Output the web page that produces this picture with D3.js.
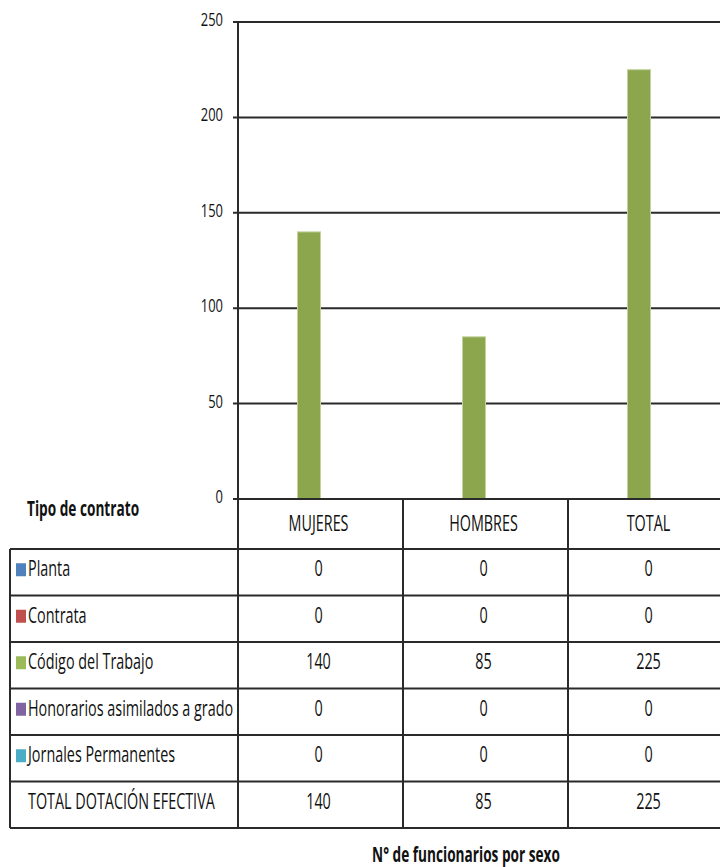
<!DOCTYPE html>
<html><head><meta charset="utf-8">
<script src="https://cdn.jsdelivr.net/npm/d3@7"></script>
<style>html,body{margin:0;padding:0;background:#fff;}svg{display:block;}</style>
</head><body>
<svg id="c" width="720" height="867"></svg>
<script>
const categories = ["MUJERES", "HOMBRES", "TOTAL"];
const seriesNames = ["Planta", "Contrata", "Código del Trabajo", "Honorarios asimilados a grado", "Jornales Permanentes", "TOTAL DOTACIÓN EFECTIVA"];
const seriesColors = ["#4F81BD", "#C0504D", "#9BBB59", "#8064A2", "#4BACC6", null];
const barColor = "#8BA64C";
const planta = [0, 0, 0];
const contrata = [0, 0, 0];
const codigoTrabajo = [140, 85, 225];
const honorarios = [0, 0, 0];
const jornales = [0, 0, 0];
const totalDotacion = [140, 85, 225];
const yTicks = [0, 50, 100, 150, 200, 250];
const tableTitle = "Tipo de contrato";
const xTitle = "N° de funcionarios por sexo";

const seriesValues = [planta, contrata, codigoTrabajo, honorarios, jornales, totalDotacion];
const drawnSeries = [2];

const svg = d3.select("#c");
const FONT = "'Open Sans', 'Noto Sans', sans-serif";
const SX = 0.685;
const lineCol = "#2a2a2a";

const x = d3.scaleBand().domain(categories).range([238, 733]).padding(0);
const xs = d3.scaleBand().domain(seriesNames).range([0, x.bandwidth()]).paddingInner(0).paddingOuter(0.587);
const y = d3.scaleLinear().domain([0, 250]).range([499, 22]);

function txt(g, s, px, py, opts) {
  const o = Object.assign({size: 21, anchor: "start", weight: "normal", sx: SX, fill: "#111"}, opts || {});
  g.append("text")
    .attr("transform", `translate(${px},${py}) scale(${o.sx},1)`)
    .attr("text-anchor", o.anchor)
    .attr("font-family", FONT)
    .attr("font-size", o.size)
    .attr("font-weight", o.weight)
    .attr("fill", o.fill)
    .text(s);
}

// gridlines
const grid = svg.append("g");
grid.selectAll("line").data(yTicks).join("line")
  .attr("x1", 233).attr("x2", 720)
  .attr("y1", d => y(d)).attr("y2", d => y(d))
  .attr("stroke", lineCol).attr("stroke-width", 2);

// y labels
const yl = svg.append("g");
yTicks.forEach(t => txt(yl, String(t), 223, y(t) + 4, {size: 18, anchor: "end", sx: 0.72}));

// bars
const bars = svg.append("g");
drawnSeries.forEach(si => {
  bars.selectAll(null).data(categories).join("rect")
    .attr("x", c => x(c) + xs(seriesNames[si]))
    .attr("width", xs.bandwidth())
    .attr("y", (c, i) => y(seriesValues[si][i]))
    .attr("height", (c, i) => y(0) - y(seriesValues[si][i]))
    .attr("fill", barColor)
    .attr("stroke", "#c2d3a0").attr("stroke-width", 1);
});

// table
const rowTop = 549, rowH = 46.5;
const rowYs = d3.range(seriesNames.length + 1).map(i => rowTop + i * rowH);
const tableBottom = rowYs[rowYs.length - 1];
const tg = svg.append("g");
rowYs.forEach(ry => tg.append("line").attr("x1", 10).attr("x2", 720).attr("y1", ry).attr("y2", ry)
  .attr("stroke", lineCol).attr("stroke-width", 2));
tg.append("line").attr("x1", 10).attr("x2", 10).attr("y1", rowTop).attr("y2", tableBottom).attr("stroke", lineCol).attr("stroke-width", 2);
tg.append("line").attr("x1", 238).attr("x2", 238).attr("y1", y(250)).attr("y2", tableBottom).attr("stroke", lineCol).attr("stroke-width", 2);
categories.slice(1).forEach(c => tg.append("line").attr("x1", x(c)).attr("x2", x(c)).attr("y1", y(0)).attr("y2", tableBottom)
  .attr("stroke", lineCol).attr("stroke-width", 2));
tg.append("line").attr("x1", 233).attr("x2", 720).attr("y1", y(0)).attr("y2", y(0)).attr("stroke", lineCol).attr("stroke-width", 2);

// header
categories.forEach(c => txt(tg, c, x(c) + x.bandwidth() / 2 - 2, 531, {anchor: "middle"}));
txt(tg, tableTitle, 27, 516, {weight: "bold", sx: 0.65});

// rows
seriesNames.forEach((s, i) => {
  const cy = rowYs[i] + rowH / 2;
  const base = cy + 4;
  if (seriesColors[i]) {
    tg.append("rect").attr("x", 16).attr("y", base - 13).attr("width", 10).attr("height", 13).attr("fill", seriesColors[i]);
  }
  txt(tg, s, 28, base);
  categories.forEach((c, j) => txt(tg, String(seriesValues[i][j]), x(c) + x.bandwidth() / 2 - 2, base, {anchor: "middle"}));
});

txt(svg, xTitle, 466, 862, {anchor: "middle", weight: "bold", sx: 0.65, size: 21});
</script>
</body></html>
